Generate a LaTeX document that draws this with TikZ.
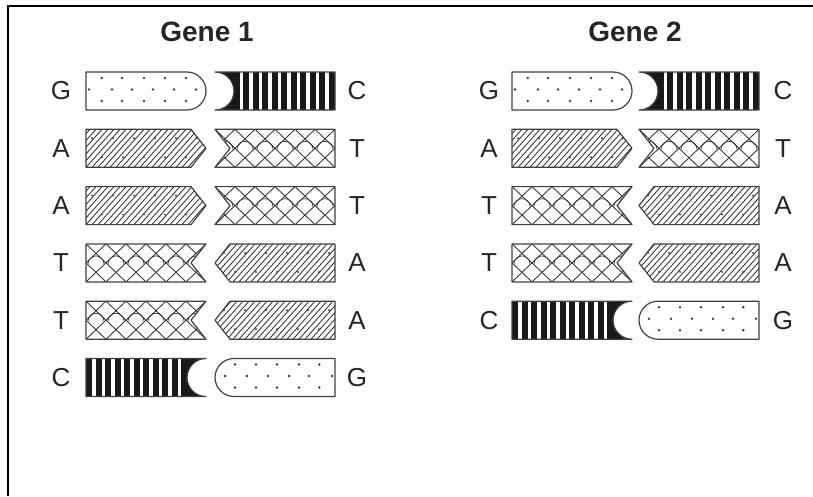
\documentclass[tikz,border=0pt]{standalone}
\usepackage{fontspec}
\setmainfont{Liberation Sans}

% Each base is drawn as the left member of a pair (its joining end on the
% right) in local coordinates: x from 0 to 120, y from -19 to 19.
% Right-hand members are the same shape mirrored with xscale=-1.
% #1 = scope options (position, mirroring), #2 = hatch direction (1 or -1)

\newcommand\shapeG[2]{%
  \begin{scope}[#1]
    \begin{scope}
      \clip (0,-19) -- (101,-19) arc (-90:90:19) -- (0,19) -- cycle;
      \foreach \x in {15.7,36,58,79,100}{%
        \fill[dotc] (\x,13) circle (1.4);
        \fill[dotc] (\x,-10) circle (1.4);}
      \foreach \x in {3,26,46,67,88,110}
        \fill[dotc] (\x,1.5) circle (1.4);
    \end{scope}
    \draw[outline] (0,-19) -- (101,-19) arc (-90:90:19) -- (0,19) -- cycle;
  \end{scope}}

\newcommand\shapeC[2]{%
  \begin{scope}[#1]
    \begin{scope}
      \clip (0,-19) -- (120,-19) arc (-90:-270:19) -- (0,19) -- cycle;
      \fill[black!90] (-1,-20) rectangle (121,20);
      \foreach \k in {0,...,9}
        \draw[white, line width=3.2pt] ({8+9.5*\k},-20) -- ++(0,40);
    \end{scope}
    \draw[outline] (0,-19) -- (120,-19) arc (-90:-270:19) -- (0,19) -- cycle;
  \end{scope}}

\newcommand\shapeA[2]{%
  \begin{scope}[#1]
    \begin{scope}
      \clip (0,-19) -- (105,-19) -- (120,0) -- (105,19) -- (0,19) -- cycle;
      \foreach \x in {-42,-36,...,162}
        \draw[hatch] (\x,-19) -- ++({#2*34},38);
      \foreach \x in {6,27,48,69,90,111}{%
        \fill[dotc] (\x,10) circle (1.1);
        \fill[dotc] ({\x+10},-9) circle (1.1);}
    \end{scope}
    \draw[outline] (0,-19) -- (105,-19) -- (120,0) -- (105,19) -- (0,19) -- cycle;
  \end{scope}}

\newcommand\shapeT[2]{%
  \begin{scope}[#1]
    \begin{scope}
      \clip (0,-19) -- (120,-19) -- (105,0) -- (120,19) -- (0,19) -- cycle;
      \foreach \x in {-20,0,...,160}{%
        \draw[hatch] (\x-20,-19) -- (\x+20,19);
        \draw[hatch] (\x+20,-19) -- (\x-20,19);
        % rounded arches in the middle band of the mesh
        \draw[hatch, line width=0.7pt] (\x+2,-1) arc (180:0:8);}
    \end{scope}
    \draw[outline] (0,-19) -- (120,-19) -- (105,0) -- (120,19) -- (0,19) -- cycle;
  \end{scope}}

\begin{document}
\begin{tikzpicture}[x=1pt,y=1pt,
  outline/.style={draw=black!75, line width=1.2pt, line join=round},
  hatch/.style={draw=black!80, line width=0.85pt},
  dotc/.style={fill=black!75},
  base/.style={font=\fontsize{26}{30}\selectfont, text=black!85, inner sep=0pt},
  title/.style={font=\fontsize{28}{32}\selectfont\bfseries, text=black!85, inner sep=0pt}]
  \useasboundingbox (0,0) rectangle (813,-496);

  % frame lines
  \draw[line width=1.3pt] (8,-496) -- (8,-6) -- (813,-6);

  % titles
  \node[title] (t1) at (207,-32) {Gene 1};
  \node[title] (t2) at (635,-32) {Gene 2};

  % Gene 1
  \foreach \r/\L/\R in {1/G/C,2/A/T,3/A/T,4/T/A,5/T/A,6/C/G}{
    \pgfmathsetmacro\yy{-91-57.3*(\r-1)}
    \csname shape\L\endcsname{shift={(86,\yy)}}{1}
    \csname shape\R\endcsname{shift={(335,\yy)},xscale=-1}{-1}
    \node[base] (ga\r) at (61,\yy) {\L};
    \node[base] (gb\r) at (357,\yy) {\R};
  }

  % Gene 2
  \foreach \r/\L/\R in {1/G/C,2/A/T,3/T/A,4/T/A,5/C/G}{
    \pgfmathsetmacro\yy{-91-57.3*(\r-1)}
    \csname shape\L\endcsname{shift={(512,\yy)}}{1}
    \csname shape\R\endcsname{shift={(759,\yy)},xscale=-1}{-1}
    \node[base] (ha\r) at (489,\yy) {\L};
    \node[base] (hb\r) at (783,\yy) {\R};
  }
\end{tikzpicture}
\end{document}
